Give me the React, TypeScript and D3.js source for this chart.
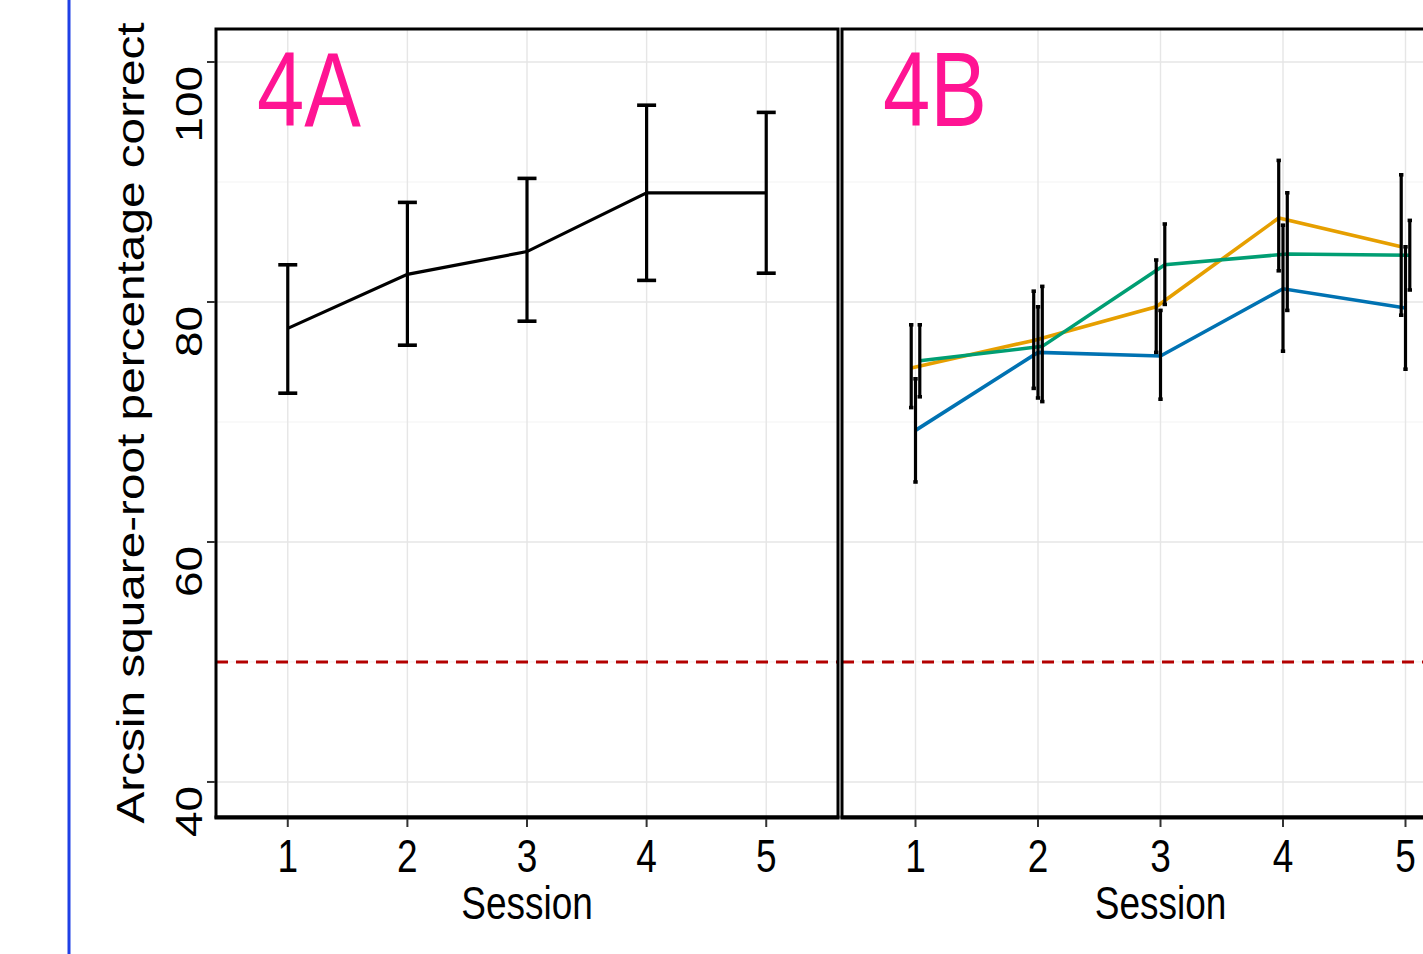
import React, { useEffect, useRef } from "react";
import * as d3 from "d3";

// sessions on the x axis
const sessions = [1, 2, 3, 4, 5];

// panel 4A: one group
const meanA = [77.8, 82.3, 84.2, 89.1, 89.1];
const lowA = [72.4, 76.4, 78.4, 81.8, 82.4];
const highA = [83.1, 88.3, 90.3, 96.4, 95.8];

// panel 4B: three groups
const meanOrange = [74.5, 76.8, 79.6, 87.0, 84.6];
const lowOrange = [71.2, 72.8, 75.8, 82.6, 78.9];
const highOrange = [78.1, 80.9, 83.5, 91.8, 90.6];
const meanBlue = [69.3, 75.8, 75.5, 81.1, 79.5];
const lowBlue = [65.0, 72.0, 71.9, 75.9, 74.4];
const highBlue = [73.6, 79.6, 79.3, 86.4, 84.6];
const meanGreen = [75.1, 76.3, 83.1, 84.0, 83.9];
const lowGreen = [72.1, 71.7, 79.8, 79.3, 81.0];
const highGreen = [78.1, 81.3, 86.5, 89.1, 86.8];

const yTicks = [40, 60, 80, 100];
const yMinorTicks = [50, 70, 90];
const chanceLevel = 50;

const FONT = "'Liberation Sans', Arial, sans-serif";
const SY = 1.24; // the source picture is stretched vertically

export default function App() {
  const ref = useRef<SVGSVGElement | null>(null);

  useEffect(() => {
    const svg = d3.select(ref.current);
    svg.selectAll("*").remove();

    const top = 29;
    const bottom = 817;
    const y = d3.scaleLinear().domain([37.08, 102.75]).range([bottom, top]);

    // blue page rule on the left
    svg
      .append("line")
      .attr("x1", 69)
      .attr("x2", 69)
      .attr("y1", 0)
      .attr("y2", 954)
      .attr("stroke", "#1f40e6")
      .attr("stroke-width", 3);

    function text(g, x, yy, str, size, anchor, rotate, color) {
      g.append("text")
        .attr(
          "transform",
          "translate(" + x + "," + yy + ") scale(1," + SY + ")" + (rotate ? " rotate(-90)" : "")
        )
        .attr("font-family", FONT)
        .attr("font-size", size)
        .attr("text-anchor", anchor)
        .attr("fill", color || "#000")
        .text(str);
    }

    function panel(x0, x1, label, series) {
      const x = d3.scaleLinear().domain([0.4, 5.6]).range([x0, x1]);
      const g = svg.append("g");

      // grid
      g.selectAll(".minor")
        .data(yMinorTicks)
        .enter()
        .append("line")
        .attr("x1", x0)
        .attr("x2", x1)
        .attr("y1", (d) => y(d))
        .attr("y2", (d) => y(d))
        .attr("stroke", "#f3f3f3")
        .attr("stroke-width", 1.2);
      g.selectAll(".major")
        .data(yTicks)
        .enter()
        .append("line")
        .attr("x1", x0)
        .attr("x2", x1)
        .attr("y1", (d) => y(d))
        .attr("y2", (d) => y(d))
        .attr("stroke", "#e6e6e6")
        .attr("stroke-width", 1.6);
      g.selectAll(".vgrid")
        .data(sessions)
        .enter()
        .append("line")
        .attr("x1", (d) => x(d))
        .attr("x2", (d) => x(d))
        .attr("y1", top)
        .attr("y2", bottom)
        .attr("stroke", "#e6e6e6")
        .attr("stroke-width", 1.4);

      // chance line
      g.append("line")
        .attr("x1", x0)
        .attr("x2", x1)
        .attr("y1", y(chanceLevel))
        .attr("y2", y(chanceLevel))
        .attr("stroke", "#b30000")
        .attr("stroke-width", 3)
        .attr("stroke-dasharray", "12,8");

      series.forEach((s) => {
        const pts = sessions.map((d, i) => [x(d + s.dodge), y(s.mean[i])]);
        g.append("path")
          .attr("d", d3.line()(pts))
          .attr("fill", "none")
          .attr("stroke", s.color)
          .attr("stroke-width", s.lineWidth);
      });

      series.forEach((s) => {
        const eb = g.selectAll(null).data(sessions).enter().append("g");
        const cx = (d) => x(d + s.dodge);
        eb.append("line")
          .attr("x1", cx)
          .attr("x2", cx)
          .attr("y1", (d, i) => y(s.low[i]))
          .attr("y2", (d, i) => y(s.high[i]))
          .attr("stroke", "#000")
          .attr("stroke-width", 3.2);
        ["low", "high"].forEach((k) => {
          eb.append("line")
            .attr("x1", (d) => cx(d) - s.cap)
            .attr("x2", (d) => cx(d) + s.cap)
            .attr("y1", (d, i) => y(s[k][i]))
            .attr("y2", (d, i) => y(s[k][i]))
            .attr("stroke", "#000")
            .attr("stroke-width", 3.6);
        });
      });

      // frame
      g.append("rect")
        .attr("x", x0)
        .attr("y", top)
        .attr("width", x1 - x0)
        .attr("height", bottom - top)
        .attr("fill", "none")
        .attr("stroke", "#000")
        .attr("stroke-width", 3);
      g.append("line")
        .attr("x1", x0 - 1.5)
        .attr("x2", x1 + 1.5)
        .attr("y1", bottom + 0.5)
        .attr("y2", bottom + 0.5)
        .attr("stroke", "#000")
        .attr("stroke-width", 4);

      // x axis
      g.selectAll(".xtick")
        .data(sessions)
        .enter()
        .append("line")
        .attr("x1", (d) => x(d))
        .attr("x2", (d) => x(d))
        .attr("y1", bottom + 2)
        .attr("y2", bottom + 10)
        .attr("stroke", "#333")
        .attr("stroke-width", 2);
      sessions.forEach((d) => text(g, x(d), 872, String(d), 37, "middle", false, "#000"));
      text(g, (x0 + x1) / 2, 919, "Session", 37, "middle", false, "#000");

      text(g, x0 + 41, 126, label, 85, "start", false, "#ff1493");
      return x;
    }

    panel(216, 838, "4A", [
      { mean: meanA, low: lowA, high: highA, color: "#000", dodge: 0, cap: 9.5, lineWidth: 3.2 },
    ]);
    panel(842, 1479, "4B", [
      { mean: meanOrange, low: lowOrange, high: highOrange, color: "#e69f00", dodge: -0.035, cap: 2.2, lineWidth: 3.6 },
      { mean: meanBlue, low: lowBlue, high: highBlue, color: "#0072b2", dodge: 0, cap: 2.2, lineWidth: 3.6 },
      { mean: meanGreen, low: lowGreen, high: highGreen, color: "#009e73", dodge: 0.035, cap: 2.2, lineWidth: 3.6 },
    ]);

    // y axis of panel A
    const ya = svg.append("g");
    ya.selectAll("line")
      .data(yTicks)
      .enter()
      .append("line")
      .attr("x1", 207)
      .attr("x2", 215)
      .attr("y1", (d) => y(d))
      .attr("y2", (d) => y(d))
      .attr("stroke", "#333")
      .attr("stroke-width", 2);
    yTicks.forEach((d) => text(ya, 202, y(d) + 4, String(d), 37, "end", true, "#000"));
    text(ya, 144, (top + bottom) / 2, "Arcsin square-root percentage correct", 38.5, "middle", true, "#000");
  }, []);

  return (
    <svg
      ref={ref}
      width={1423}
      height={954}
      style={{ position: "absolute", left: 0, top: 0, background: "#fff" }}
    />
  );
}
